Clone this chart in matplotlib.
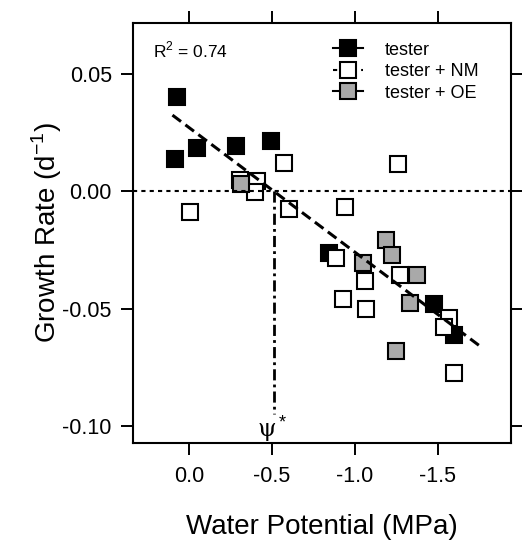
import matplotlib
matplotlib.use('Agg')
import matplotlib.pyplot as plt
from matplotlib.lines import Line2D

plt.rcParams['font.family'] = ['Liberation Sans', 'DejaVu Sans']
plt.rcParams['mathtext.fontset'] = 'custom'
plt.rcParams['mathtext.rm'] = 'Liberation Sans'

# tester (black)
wp_tester = [0.07, 0.085, -0.05, -0.285, -0.495, -0.845, -1.48, -1.595]
gr_tester = [0.040, 0.0137, 0.0185, 0.0194, 0.0214, -0.0264, -0.048, -0.0611]

# tester + NM (white)
wp_nm = [-0.57, -1.26, -0.41, -0.31, -0.40, -0.005, -0.60, -0.94,
         -0.885, -1.06, -0.93, -1.07, -1.27, -1.565, -1.535, -1.60]
gr_nm = [0.0119, 0.0115, 0.0044, 0.0048, -0.0002, -0.0089, -0.0077, -0.0065,
         -0.0285, -0.038, -0.0457, -0.0502, -0.0356, -0.054, -0.0578, -0.0771]

# tester + OE (grey)
wp_oe = [-0.315, -1.19, -1.225, -1.05, -1.375, -1.335, -1.25]
gr_oe = [0.0033, -0.0207, -0.0271, -0.0304, -0.0356, -0.0474, -0.0678]

# regression line end points and psi*
fit_x = [0.10, -1.75]
fit_y = [0.0324, -0.0656]
psi_star = -0.513

fig = plt.figure(figsize=(5.22, 5.51), dpi=100)
ax = fig.add_axes([0.2554, 0.1966, 0.7230, 0.7622])

ms = 11.5
ax.plot(wp_tester, gr_tester, 's', ms=ms, mfc='black', mec='black', mew=1.5, zorder=2)
ax.plot(wp_nm, gr_nm, 's', ms=ms, mfc='white', mec='black', mew=1.5, zorder=2)
ax.plot(wp_oe, gr_oe, 's', ms=ms, mfc='#a9a9a9', mec='black', mew=1.5, zorder=2)

ax.axhline(0, color='black', lw=1.5, ls=(0, (2, 2)), zorder=3)
ax.plot(fit_x, fit_y, color='black', lw=2.2, ls=(0, (3.5, 1.8)), zorder=3)
ax.plot([psi_star, psi_star], [0, -0.0945], color='black', lw=2.0,
        ls=(0, (4, 1.5, 1, 1.5)), zorder=3)

ax.text(-0.47, -0.1015, 'ψ', fontsize=17, family='DejaVu Serif', ha='center', va='center')
ax.text(-0.565, -0.0985, '*', fontsize=13, ha='center', va='center')

ax.set_xlim(0.336, -1.94)
ax.set_ylim(-0.1069, 0.0717)
ax.set_xticks([0.0, -0.5, -1.0, -1.5])
ax.set_xticklabels(['0.0', '-0.5', '-1.0', '-1.5'])
ax.set_yticks([0.05, 0.0, -0.05, -0.10])
ax.set_yticklabels(['0.05', '0.00', '-0.05', '-0.10'])
ax.tick_params(direction='out', top=True, right=True, length=8.5, width=1.4,
               labelsize=15.5)
ax.tick_params(axis='x', pad=8)
ax.tick_params(axis='y', pad=7)
for s in ax.spines.values():
    s.set_linewidth(1.5)

ax.text(0.051, 0.917, r'R$^2$ = 0.74', transform=ax.transAxes, fontsize=12.5,
        ha='left', va='baseline')

handles = [
    Line2D([], [], color='black', lw=1.5, marker='s', ms=ms, mfc='black', mec='black', mew=1.5),
    Line2D([], [], color='black', lw=1.5, ls=(0, (2, 2.5)), marker='s', ms=ms, mfc='white', mec='black', mew=1.5),
    Line2D([], [], color='black', lw=1.5, marker='s', ms=ms, mfc='#a9a9a9', mec='black', mew=1.5),
]
ax.legend(handles, ['tester', 'tester + NM', 'tester + OE'], loc='upper left',
          bbox_to_anchor=(0.529, 0.955), frameon=False, fontsize=13,
          handlelength=1.66, handletextpad=1.2, labelspacing=0.25, borderpad=0,
          borderaxespad=0)

fig.text(322 / 522, 1 - 527 / 551, 'Water Potential (MPa)', fontsize=20,
         ha='center', va='center')
fig.text(47 / 522, 1 - 232.7 / 551, r'Growth Rate (d$^{-1}$)', fontsize=20,
         ha='center', va='center', rotation=90)

plt.savefig('out.png', dpi=100)
